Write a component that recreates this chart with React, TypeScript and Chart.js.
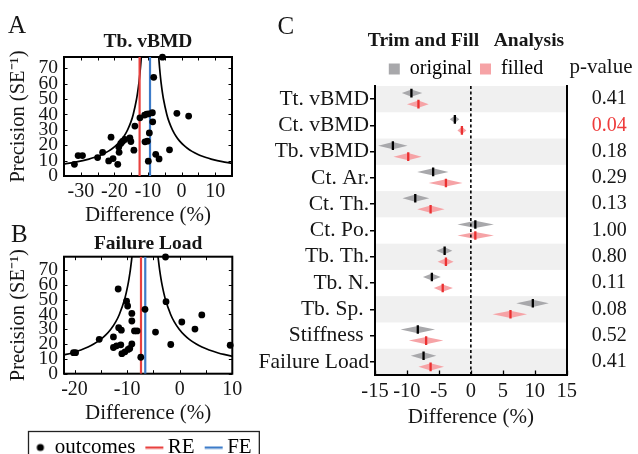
import React, { useEffect, useRef } from 'react';
import { Chart, registerables } from 'chart.js';

Chart.register(...registerables);

const FONT = "'Liberation Serif', 'Times New Roman', Times, serif";
const INK = '#161616';
const RE_COLOR = '#e8413f';
const FE_COLOR = '#3d7cc9';
const ORIG_COLOR = '#a8a8ab';
const FILL_COLOR = '#f6a3a6';
const ORIG_TICK = '#000000';
const FILL_TICK = '#ea3030';
const BAND_COLOR = '#f0f0f0';
const PV_RED = '#ee3b3b';

// ---------- Panel A : Tb. vBMD funnel plot ----------
const A_TITLE = 'Tb. vBMD';
const A_X = [-31.9, -30.8, -29.5, -25.0, -23.5, -21.7, -20.4, -19.0, -21.0, -18.7, -18.6, -18.1, -17.6, -16.9, -15.4, -15.1, -14.2, -13.9, -12.4, -11.0, -10.4, -9.8, -8.7, -10.9, -10.2, -9.6, -8.6, -9.9, -7.7, -6.7, -3.6, -1.4, 2.1, -8.3, -5.7];
const A_Y = [7.6, 13.3, 13.3, 12.0, 15.4, 9.8, 11.3, 7.6, 25.2, 18.9, 15.4, 21.1, 22.4, 23.7, 24.8, 22.4, 16.8, 32.4, 37.8, 39.6, 40.2, 40.4, 41.1, 22.2, 22.6, 28.0, 35.2, 9.6, 14.1, 11.1, 17.0, 40.7, 38.9, 64.1, 77.2];
const A_RE = -12.5;
const A_FE = -9.4;
const A_FUNNEL_PREC = [7, 7.5, 8, 9, 10, 11, 12, 13, 14, 16, 18, 20, 23, 26, 30, 35, 40, 50, 60, 70, 80];
const A_FUNNEL_LEFT = [-37.97, -36.07, -34.4, -31.62, -29.4, -27.58, -26.07, -24.78, -23.69, -21.9, -20.51, -19.4, -18.1, -17.09, -16.07, -15.11, -14.4, -13.4, -12.73, -12.26, -11.9];
const A_FUNNEL_RIGHT = [19.17, 17.27, 15.6, 12.82, 10.6, 8.78, 7.27, 5.98, 4.89, 3.1, 1.71, 0.6, -0.7, -1.71, -2.73, -3.69, -4.4, -5.4, -6.07, -6.54, -6.9];
const A_X_TICKS = [-35, -30, -25, -20, -15, -10, -5, 0, 5, 10, 15];
const A_Y_TICKS = [0, 10, 20, 30, 40, 50, 60, 70];

// ---------- Panel B : Failure Load funnel plot ----------
const B_TITLE = 'Failure Load';
const B_X = [-2.7, -11.7, -10.1, -9.9, -9.1, -9.1, -6.6, -2.6, 0.4, 4.2, 2.9, -11.6, -11.1, -8.6, -8.1, -15.3, -12.6, -4.6, -1.7, 9.6, -9.1, -12.6, -12.0, -11.2, -10.4, -9.8, -9.5, -11.0, -7.4, -20.2, -19.8];
const B_Y = [78.8, 57.2, 49.0, 45.7, 40.7, 35.6, 43.5, 48.6, 34.9, 39.7, 30.1, 31.1, 29.4, 28.9, 28.9, 23.2, 24.8, 28.1, 19.7, 19.2, 20.1, 17.7, 18.8, 19.5, 14.8, 16.4, 17.0, 13.5, 11.1, 14.2, 14.2];
const B_RE = -7.36;
const B_FE = -6.55;
const B_FUNNEL_PREC = [11, 12, 13, 14, 16, 18, 20, 23, 26, 30, 35, 40, 50, 60, 70, 80];
const B_FUNNEL_LEFT = [-24.33, -22.85, -21.6, -20.53, -18.79, -17.43, -16.35, -15.08, -14.1, -13.1, -12.17, -11.48, -10.5, -9.85, -9.39, -9.04];
const B_FUNNEL_RIGHT = [11.13, 9.65, 8.4, 7.33, 5.59, 4.23, 3.15, 1.88, 0.9, -0.1, -1.03, -1.72, -2.7, -3.35, -3.81, -4.16];
const B_X_TICKS = [-20, -15, -10, -5, 0, 5, 10];
const B_Y_TICKS = [0, 10, 20, 30, 40, 50, 60, 70];
const LEGEND_B = ['outcomes', 'RE', 'FE'];

// ---------- Panel C : Trim and Fill ----------
const C_TITLE = 'Trim and Fill   Analysis';
const C_LEGEND = ['original', 'filled'];
const C_ROWS = ['Tt. vBMD', 'Ct. vBMD', 'Tb. vBMD', 'Ct. Ar.', 'Ct. Th.', 'Ct. Po.', 'Tb. Th.', 'Tb. N.', 'Tb. Sp. ', 'Stiffness ', 'Failure Load'];
const ORIG_EST = [-9.3, -2.5, -12.2, -5.9, -8.7, 0.7, -4.1, -6.1, 9.7, -8.3, -7.4];
const ORIG_LO = [-10.8, -3.3, -14.5, -8.4, -10.7, -2.1, -5.4, -7.5, 7.1, -11.0, -9.4];
const ORIG_HI = [-7.6, -1.8, -9.9, -3.5, -6.5, 3.6, -2.9, -4.7, 12.2, -5.6, -5.4];
const FILL_EST = [-8.2, -1.4, -9.8, -3.9, -6.3, 0.7, -3.9, -4.4, 6.2, -7.0, -6.3];
const FILL_LO = [-10.0, -2.1, -12.1, -6.6, -8.4, -2.1, -5.2, -5.8, 3.4, -9.7, -8.2];
const FILL_HI = [-6.6, -0.7, -7.7, -1.3, -4.1, 3.6, -2.7, -2.8, 8.8, -4.3, -4.2];
const P_VALUES = ['0.41', '0.04', '0.18', '0.29', '0.13', '1.00', '0.80', '0.11', '0.08', '0.52', '0.41'];
const P_SIGNIFICANT = [false, true, false, false, false, false, false, false, false, false, false];
const C_X_TICKS = [-15, -10, -5, 0, 5, 10, 15];

// layout / style constants
const ORIG_OFFSET = -0.23;
const FILL_OFFSET = 0.19;
const DIAMOND_HALF_H = 3.6;

const font = (size: number, weight: any = 'normal', lineHeight: number = 1.2) => ({ family: FONT, size, weight, lineHeight });

const frameTicksPlugin = {
  id: 'frameTicks',
  beforeDatasetsDraw(chart: any) {
    const { ctx, chartArea: a, scales } = chart;
    const x = scales.x, y = scales.y;
    const L = 3.5;
    ctx.save();
    ctx.strokeStyle = '#000';
    ctx.lineWidth = 1;
    ctx.beginPath();
    x.ticks.forEach((t: any) => {
      const px = Math.round(x.getPixelForValue(t.value)) + 0.5;
      ctx.moveTo(px, a.bottom); ctx.lineTo(px, a.bottom - L);
      ctx.moveTo(px, a.top); ctx.lineTo(px, a.top + L);
    });
    y.ticks.forEach((t: any) => {
      const py = Math.round(y.getPixelForValue(t.value)) + 0.5;
      ctx.moveTo(a.left, py); ctx.lineTo(a.left + L, py);
      ctx.moveTo(a.right, py); ctx.lineTo(a.right - L, py);
    });
    ctx.stroke();
    ctx.lineWidth = 2;
    ctx.strokeRect(a.left, a.top, a.right - a.left, a.bottom - a.top);
    ctx.restore();
  },
};

const legendBoxPlugin = {
  id: 'legendBox',
  afterDraw(chart: any) {
    const lg = chart.legend;
    if (!lg || !lg.legendHitBoxes || !lg.legendHitBoxes.length) return;
    const hb = lg.legendHitBoxes;
    const l = Math.min(...hb.map((h: any) => h.left)) - 8.5;
    const r = Math.max(...hb.map((h: any) => h.left + h.width)) + 7;
    const t = lg.top + 8;
    const ctx = chart.ctx;
    ctx.save();
    ctx.strokeStyle = '#222';
    ctx.lineWidth = 1.3;
    ctx.strokeRect(Math.round(l) + 0.5, Math.round(t) + 0.5, r - l, 80);
    ctx.restore();
  },
};

const forestPlugin = {
  id: 'forestRows',
  beforeDatasetsDraw(chart: any) {
    const { ctx, chartArea: a, scales } = chart;
    const x = scales.x, y = scales.y;
    ctx.save();
    ctx.fillStyle = BAND_COLOR;
    C_ROWS.forEach((_, i) => {
      if (i % 2 !== 0) return;
      const p1 = y.getPixelForValue(i - 0.5), p2 = y.getPixelForValue(i + 0.5);
      ctx.fillRect(a.left, Math.min(p1, p2), a.right - a.left, Math.abs(p2 - p1));
    });
    const diamond = (lo: number, est: number, hi: number, row: number, color: string) => {
      const py = y.getPixelForValue(row);
      const pl = x.getPixelForValue(lo), pe = x.getPixelForValue(est), ph = x.getPixelForValue(hi);
      ctx.beginPath();
      ctx.moveTo(pl, py);
      ctx.lineTo(pe, py - DIAMOND_HALF_H);
      ctx.lineTo(ph, py);
      ctx.lineTo(pe, py + DIAMOND_HALF_H);
      ctx.closePath();
      ctx.fillStyle = color;
      ctx.fill();
    };
    C_ROWS.forEach((_, i) => {
      diamond(ORIG_LO[i], ORIG_EST[i], ORIG_HI[i], i + ORIG_OFFSET, ORIG_COLOR);
      diamond(FILL_LO[i], FILL_EST[i], FILL_HI[i], i + FILL_OFFSET, FILL_COLOR);
    });
    ctx.strokeStyle = '#000';
    ctx.lineWidth = 1.3;
    ctx.beginPath();
    x.ticks.forEach((t: any) => {
      const px = Math.round(x.getPixelForValue(t.value)) + 0.5;
      ctx.moveTo(px, a.bottom); ctx.lineTo(px, a.bottom - 4.5);
    });
    ctx.stroke();
    ctx.restore();
  },
};

function funnelConfig(s: any, icons: any) {
  const datasets: any[] = [
    { label: 'outcomes', data: s.xs.map((x: number, i: number) => ({ x, y: s.ys[i] })), showLine: false, pointRadius: 3.4, pointBackgroundColor: '#000', pointBorderWidth: 0, clip: false },
    { label: 'RE', data: [{ x: s.re, y: 0 }, { x: s.re, y: s.yMax }], showLine: true, borderColor: RE_COLOR, borderWidth: 2.2, pointRadius: 0 },
    { label: 'FE', data: [{ x: s.fe, y: 0 }, { x: s.fe, y: s.yMax }], showLine: true, borderColor: FE_COLOR, borderWidth: 2.2, pointRadius: 0 },
    { label: 'funnel-left', data: s.prec.map((p: number, i: number) => ({ x: s.left[i], y: p })), showLine: true, borderColor: '#000', borderWidth: 1.7, pointRadius: 0, tension: 0.3 },
    { label: 'funnel-right', data: s.prec.map((p: number, i: number) => ({ x: s.right[i], y: p })), showLine: true, borderColor: '#000', borderWidth: 1.7, pointRadius: 0, tension: 0.3 },
  ];
  const legend: any = { display: false };
  if (icons) {
    legend.display = true;
    legend.position = 'bottom';
    legend.labels = {
      usePointStyle: true, boxWidth: 8, boxHeight: 8, padding: 14, color: INK, font: font(21),
      generateLabels: () => [
        { text: LEGEND_B[0], pointStyle: icons.dot, fillStyle: '#000', strokeStyle: '#000', lineWidth: 0, hidden: false, datasetIndex: 0 },
        { text: LEGEND_B[1], pointStyle: icons.re, fillStyle: RE_COLOR, strokeStyle: RE_COLOR, lineWidth: 0, hidden: false, datasetIndex: 1 },
        { text: LEGEND_B[2], pointStyle: icons.fe, fillStyle: FE_COLOR, strokeStyle: FE_COLOR, lineWidth: 0, hidden: false, datasetIndex: 2 },
      ],
    };
  }
  return {
    type: 'scatter',
    data: { datasets },
    plugins: icons ? [frameTicksPlugin, legendBoxPlugin] : [frameTicksPlugin],
    options: {
      responsive: false,
      animation: false,
      events: [],
      layout: { padding: 0 },
      plugins: {
        legend,
        tooltip: { enabled: false },
        title: { display: true, text: s.title, fullSize: false, color: INK, font: font(19.5, 'bold', 1), padding: s.titlePad },
      },
      scales: {
        x: {
          type: 'linear', position: 'bottom', min: s.xMin, max: s.xMax,
          afterBuildTicks: (sc: any) => { sc.ticks = s.xTicks.map((v: number) => ({ value: v })); },
          ticks: { callback: (v: any) => (v % 10 === 0 ? String(v) : ''), color: INK, font: font(20), padding: 4, maxRotation: 0, minRotation: 0, autoSkip: false },
          grid: { display: false, drawTicks: false },
          border: { display: false },
          title: { display: true, text: 'Difference (%)', color: INK, font: font(21, 'normal', 1), padding: { top: 0, bottom: s.xTitlePadBottom } },
          afterFit: (sc: any) => { sc.height = s.xAxisH; },
        },
        y: {
          type: 'linear', position: 'left', min: 0, max: s.yMax,
          afterBuildTicks: (sc: any) => { sc.ticks = s.yTicks.map((v: number) => ({ value: v })); },
          ticks: { callback: (v: any) => String(v), color: INK, font: font(19.5), padding: 6, autoSkip: false },
          grid: { display: false, drawTicks: false },
          border: { display: false },
          title: { display: true, text: 'Precision (SE\u207B\u00B9)', color: INK, font: font(20.5, 'normal', 1.2), padding: { top: 6.7, bottom: 0 } },
          afterFit: (sc: any) => { sc.width = 64; },
        },
        yR: {
          type: 'linear', position: 'right', display: true, min: 0, max: 1,
          ticks: { display: false }, grid: { display: false, drawTicks: false }, border: { display: false },
          afterFit: (sc: any) => { sc.width = s.rightW; },
        },
      },
    },
  };
}

function forestConfig() {
  const datasets: any[] = [
    { label: 'original', xAxisID: 'x', yAxisID: 'y', data: ORIG_EST.map((v, i) => ({ x: v, y: i + ORIG_OFFSET })), showLine: false, pointStyle: 'line', pointRotation: 90, pointRadius: 4.3, pointBorderWidth: 2.3, pointBorderColor: ORIG_TICK, borderColor: ORIG_TICK },
    { label: 'filled', xAxisID: 'x', yAxisID: 'y', data: FILL_EST.map((v, i) => ({ x: v, y: i + FILL_OFFSET })), showLine: false, pointStyle: 'line', pointRotation: 90, pointRadius: 4.3, pointBorderWidth: 2.3, pointBorderColor: FILL_TICK, borderColor: FILL_TICK },
    { label: 'zero', xAxisID: 'x', yAxisID: 'y', data: [{ x: 0, y: -0.5 }, { x: 0, y: C_ROWS.length - 0.5 }], showLine: true, borderColor: '#000', borderWidth: 1.6, borderDash: [3, 2.5], pointRadius: 0 },
  ];
  const rowTicks = (sc: any) => { sc.ticks = C_ROWS.map((_, i) => ({ value: i })); };
  return {
    type: 'scatter',
    data: { datasets },
    plugins: [forestPlugin],
    options: {
      responsive: false,
      animation: false,
      events: [],
      layout: { padding: 0 },
      plugins: {
        tooltip: { enabled: false },
        title: { display: true, text: C_TITLE, color: INK, font: font(19.5, 'bold', 1), padding: { top: 31.5, bottom: 0 } },
        legend: {
          display: true, position: 'top', maxHeight: 35,
          labels: {
            boxWidth: 11, boxHeight: 11, padding: 8, color: INK, font: font(20),
            generateLabels: () => [
              { text: C_LEGEND[0], fillStyle: ORIG_COLOR, strokeStyle: ORIG_COLOR, lineWidth: 0, hidden: false, datasetIndex: 0 },
              { text: C_LEGEND[1], fillStyle: FILL_COLOR, strokeStyle: FILL_COLOR, lineWidth: 0, hidden: false, datasetIndex: 1 },
            ],
          },
        },
      },
      scales: {
        x: {
          type: 'linear', position: 'bottom', min: -15, max: 15,
          afterBuildTicks: (sc: any) => { sc.ticks = C_X_TICKS.map((v) => ({ value: v })); },
          ticks: { callback: (v: any) => String(v), color: INK, font: font(20.5), padding: 4, maxRotation: 0, minRotation: 0, autoSkip: false },
          grid: { display: false, drawTicks: false },
          border: { display: true, color: '#000', width: 2, z: 1 },
          title: { display: true, text: 'Difference (%)', color: INK, font: font(21, 'normal', 1), padding: { top: 0, bottom: 26.5 } },
          afterFit: (sc: any) => { sc.height = 79; },
        },
        y: {
          type: 'linear', position: 'left', min: -0.5, max: C_ROWS.length - 0.5, reverse: true,
          afterBuildTicks: rowTicks,
          ticks: { callback: (v: any) => C_ROWS[v], color: INK, font: font(21.5), padding: 1, autoSkip: false },
          grid: { display: true, drawOnChartArea: false, drawTicks: true, tickLength: 5, color: '#000', lineWidth: 1.5 },
          border: { display: true, color: '#000', width: 2, z: 1 },
          afterFit: (sc: any) => { sc.width = 135; },
        },
        y2: {
          type: 'linear', position: 'right', min: -0.5, max: C_ROWS.length - 0.5, reverse: true,
          afterBuildTicks: rowTicks,
          ticks: {
            callback: (v: any) => P_VALUES[v],
            color: (c: any) => (P_SIGNIFICANT[c.index] ? PV_RED : INK),
            font: font(20), padding: 25, autoSkip: false,
          },
          grid: { display: false, drawTicks: false },
          border: { display: true, color: '#000', width: 2, z: 1 },
          afterFit: (sc: any) => { sc.width = 125.3; },
        },
      },
    },
  };
}

function makeDot() {
  const c = document.createElement('canvas');
  c.width = 10; c.height = 10;
  const g = c.getContext('2d')!;
  g.fillStyle = '#000';
  g.beginPath(); g.arc(5, 5, 3.6, 0, Math.PI * 2); g.fill();
  return c;
}

function makeLine(color: string) {
  const c = document.createElement('canvas');
  c.width = 24; c.height = 4;
  const g = c.getContext('2d')!;
  g.fillStyle = color;
  g.fillRect(4, 1, 18, 2.2);
  return c;
}

const SPEC_A = {
  title: A_TITLE, xs: A_X, ys: A_Y, re: A_RE, fe: A_FE, prec: A_FUNNEL_PREC, left: A_FUNNEL_LEFT, right: A_FUNNEL_RIGHT,
  xMin: -35, xMax: 15, yMax: 77.3, xTicks: A_X_TICKS, yTicks: A_Y_TICKS,
  titlePad: { top: 32.25, bottom: 5.25 }, xAxisH: 52, xTitlePadBottom: 2.5, rightW: 18,
};

const SPEC_B = {
  title: B_TITLE, xs: B_X, ys: B_Y, re: B_RE, fe: B_FE, prec: B_FUNNEL_PREC, left: B_FUNNEL_LEFT, right: B_FUNNEL_RIGHT,
  xMin: -22, xMax: 10, yMax: 79, xTicks: B_X_TICKS, yTicks: B_Y_TICKS,
  titlePad: { top: 12.25, bottom: 2.95 }, xAxisH: 49.3, xTitlePadBottom: -0.5, rightW: 55.7,
};

export default function App() {
  const aRef = useRef<HTMLCanvasElement | null>(null);
  const bRef = useRef<HTMLCanvasElement | null>(null);
  const cRef = useRef<HTMLCanvasElement | null>(null);

  useEffect(() => {
    const icons = { dot: makeDot(), re: makeLine(RE_COLOR), fe: makeLine(FE_COLOR) };
    const a = new Chart(aRef.current as any, funnelConfig(SPEC_A, null) as any);
    const b = new Chart(bRef.current as any, funnelConfig(SPEC_B, icons) as any);
    const c = new Chart(cRef.current as any, forestConfig() as any);
    return () => { a.destroy(); b.destroy(); c.destroy(); };
  }, []);

  const letter = (t: string, left: number, top: number) => (
    <div style={{ position: 'absolute', left, top, fontFamily: FONT, fontSize: 25, lineHeight: '25px', color: INK }}>{t}</div>
  );

  return (
    <div style={{ position: 'fixed', left: 0, top: 0, width: 638, height: 454, overflow: 'hidden', background: '#fff' }}>
      <canvas ref={aRef} width={250} height={228} style={{ position: 'absolute', left: 0, top: 0, width: 250, height: 228 }} />
      <canvas ref={bRef} width={288} height={246} style={{ position: 'absolute', left: 0, top: 222, width: 288, height: 246 }} />
      <canvas ref={cRef} width={452} height={454} style={{ position: 'absolute', left: 240, top: 0, width: 452, height: 454 }} />
      {letter('A', 8, 12.4)}
      {letter('B', 11, 220.8)}
      {letter('C', 277.5, 12.9)}
      <div style={{ position: 'absolute', left: 569.5, top: 56.4, fontFamily: FONT, fontSize: 21, lineHeight: '21px', color: INK, whiteSpace: 'nowrap' }}>p-value</div>
    </div>
  );
}
